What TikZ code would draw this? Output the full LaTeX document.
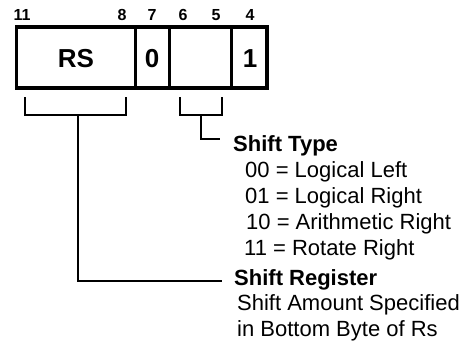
\documentclass[tikz,border=0pt]{standalone}
\usepackage{fontspec}
\setmainfont{Liberation Sans}
\begin{document}
\begin{tikzpicture}[x=1pt,y=-1pt,
  bitno/.style={font=\fontsize{16}{16}\selectfont\bfseries,inner sep=0pt,anchor=base},
  fieldtxt/.style={font=\fontsize{26}{26}\selectfont\bfseries,inner sep=0pt,anchor=base},
  head/.style={font=\fontsize{22}{22}\selectfont\bfseries,inner sep=0pt,anchor=base west},
  body/.style={font=\fontsize{22}{22}\selectfont,inner sep=0pt,anchor=base west},
  brk/.style={line width=2.4pt}]
\useasboundingbox (0,0) rectangle (476,345);
% register box
\draw[line width=3.4pt] (16.5,27) rectangle (267,88);
\coordinate (d1t) at (135,27); \coordinate (d1b) at (135,88);
\coordinate (d2t) at (169,27); \coordinate (d2b) at (169,88);
\coordinate (d3t) at (231,27); \coordinate (d3b) at (231,88);
\draw[line width=3pt] (d1t) -- (d1b);
\draw[line width=3pt] (d2t) -- (d2b);
\draw[line width=3pt] (d3t) -- (d3b);
\node[fieldtxt] (rs) at (76,67) {RS};
\node[fieldtxt] (zero) at (152,67) {0};
\node[fieldtxt] (one) at (250,67) {1};
% bit numbers
\node[bitno] (b11) at (22,20.5) {11};
\node[bitno] (b8) at (122,20.5) {8};
\node[bitno] (b7) at (152,20.5) {7};
\node[bitno] (b6) at (183,20.5) {6};
\node[bitno] (b5) at (216,20.5) {5};
\node[bitno] (b4) at (250,20.5) {4};
% texts
\node[head] (stype) at (233,151) {Shift Type};
\node[body] (t00) at (245,177) {00 = Logical Left};
\node[body] (t01) at (245,203) {01 = Logical Right};
\node[body] (t10) at (246,229) {10 = Arithmetic Right};
\node[body] (t11) at (244,255) {11 = Rotate Right};
\node[head] (sreg) at (234,285) {Shift Register};
\node[body] (amt1) at (237,310) {Shift Amount Specified};
\node[body] (amt2) at (237,336) {in Bottom Byte of Rs};
% brackets
\coordinate (rsl) at (25,97); \coordinate (rsr) at (126,97);
\coordinate (rsm) at (78,115);
\draw[brk] (rsl) -- (25,115) -- (126,115) -- (rsr);
\draw[brk] (rsm) |- ([xshift=-12pt]sreg.west |- 0,281);
\coordinate (stl) at (180,97); \coordinate (str) at (222,97);
\coordinate (stm) at (201,115);
\draw[brk] (stl) -- (180,115) -- (222,115) -- (str);
\draw[brk] (stm) |- (220,139);
\end{tikzpicture}
\end{document}
